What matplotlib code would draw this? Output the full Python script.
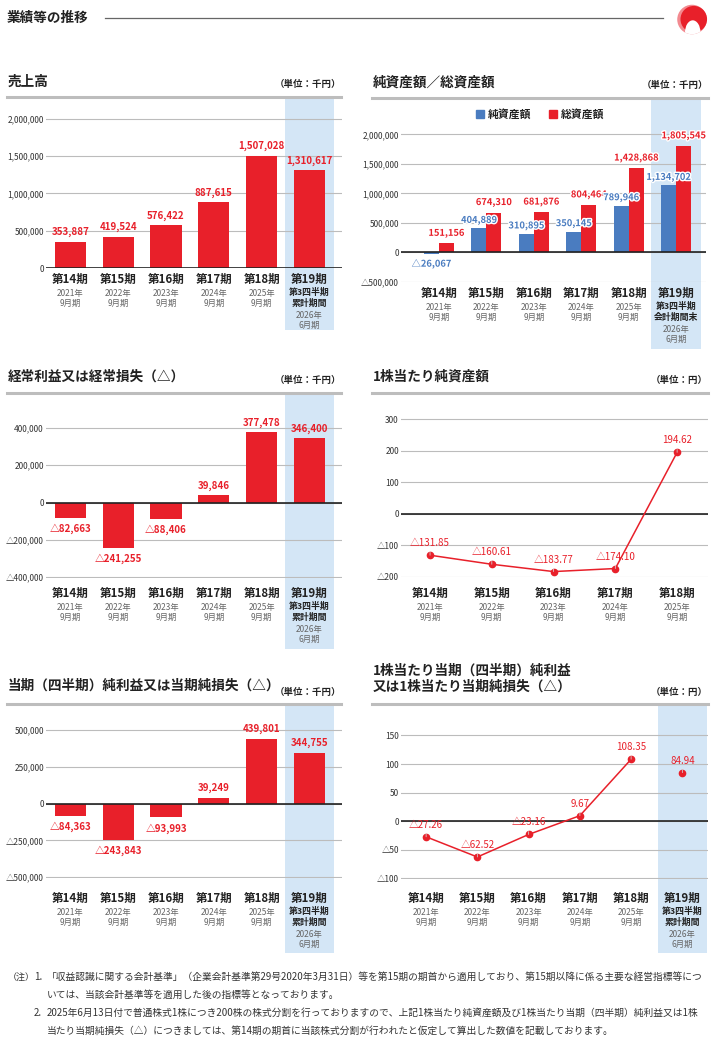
import matplotlib
matplotlib.use("Agg")
import matplotlib.pyplot as plt
import matplotlib.patches as mpatches
import matplotlib.transforms as mtrans
import matplotlib.patheffects as pe

plt.rcParams['font.family'] = ['Noto Sans CJK JP', 'DejaVu Sans']

# data
periods = ['第14期', '第15期', '第16期', '第17期', '第18期', '第19期']
years = ['2021年', '2022年', '2023年', '2024年', '2025年', '2026年']
months = ['9月期', '9月期', '9月期', '9月期', '9月期', '6月期']
sales = [353887, 419524, 576422, 887615, 1507028, 1310617]
net_assets = [-26067, 404889, 310895, 350145, 789946, 1134702]
total_assets = [151156, 674310, 681876, 804464, 1428868, 1805545]
ordinary = [-82663, -241255, -88406, 39846, 377478, 346400]
net_income = [-84363, -243843, -93993, 39249, 439801, 344755]
bps = [-131.85, -160.61, -183.77, -174.10, 194.62]
eps = [-27.26, -62.52, -23.16, 9.67, 108.35, 84.94]

RED = '#e8202a'
BLUE = '#4a7cc0'
BAND = '#d4e6f6'
GRID = '#bcbcbc'
DARK = '#222222'
GRAY = '#666666'

W, H = 717, 1042
fig = plt.figure(figsize=(W / 100, H / 100), dpi=100)


def fx(x):
    return x / W


def fy(y):
    return 1 - y / H


def add_ax(x0, y0, x1, y1):
    ax = fig.add_axes([fx(x0), fy(y1), (x1 - x0) / W, (y1 - y0) / H])
    ax.patch.set_visible(False)
    for s in ax.spines.values():
        s.set_visible(False)
    ax.set_xticks([])
    ax.tick_params(axis='y', length=0, pad=1.5, labelsize=6, labelcolor='#333333')
    return ax


def fmt_int(v):
    return '△{:,}'.format(-v) if v < 0 else '{:,}'.format(v)


def fmt_dec(v):
    return '△{:.2f}'.format(-v) if v < 0 else '{:.2f}'.format(v)


def header(x0, x1, y_title, y_unit, y_line, title, unit):
    if isinstance(title, list):
        for k, t in enumerate(title):
            fig.text(fx(x0 + 1), fy(y_title[k]), t, fontsize=9.8, fontweight='bold',
                     color=DARK, va='center')
    else:
        fig.text(fx(x0 + 1), fy(y_title), title, fontsize=9.8, fontweight='bold',
                 color=DARK, va='center')
    fig.text(fx(x1), fy(y_unit), unit, fontsize=6.8, fontweight='bold',
             color=DARK, va='center', ha='right')
    fig.add_artist(plt.Line2D([fx(x0), fx(x1)], [fy(y_line), fy(y_line)],
                              color='#bdbdbd', lw=2.2))


def yaxis(ax, ticks, lim, fmt):
    ax.set_ylim(*lim)
    ax.set_yticks(ticks)
    ax.set_yticklabels([fmt(t) for t in ticks])
    ax.grid(axis='y', color=GRID, lw=0.8)
    ax.set_axisbelow(True)
    ax.axhline(0, color=DARK, lw=1.2, zorder=3)


def band(ax, lo, hi, y0, y1):
    tr = mtrans.blended_transform_factory(ax.transData, fig.transFigure)
    ax.add_patch(mpatches.Rectangle((lo, fy(y1)), hi - lo, fy(y0) - fy(y1),
                                    transform=tr, color=BAND, lw=0,
                                    clip_on=False, zorder=0))


def xlabels(ax, n, y, special=None):
    tr = mtrans.blended_transform_factory(ax.transData, fig.transFigure)
    for i in range(n):
        ax.text(i, fy(y), periods[i], transform=tr, ha='center', va='center',
                fontsize=8.3, fontweight='bold', color=DARK)
        if i == 5 and special:
            ax.text(i, fy(y + 13), special[0], transform=tr, ha='center', va='center',
                    fontsize=6.4, fontweight='bold', color=DARK)
            ax.text(i, fy(y + 24), special[1], transform=tr, ha='center', va='center',
                    fontsize=6.4, fontweight='bold', color=DARK)
            ax.text(i, fy(y + 36.5), years[i], transform=tr, ha='center', va='center',
                    fontsize=6, color=GRAY)
            ax.text(i, fy(y + 46.5), months[i], transform=tr, ha='center', va='center',
                    fontsize=6, color=GRAY)
        else:
            ax.text(i, fy(y + 14.5), years[i], transform=tr, ha='center', va='center',
                    fontsize=6, color=GRAY)
            ax.text(i, fy(y + 24.5), months[i], transform=tr, ha='center', va='center',
                    fontsize=6, color=GRAY)


def bar_labels(ax, xs, vals, color, up=9.5, down=11, halo=False, size=7):
    for x, v in zip(xs, vals):
        off = up if v >= 0 else -down
        t = ax.annotate(fmt_int(v), (x, v), xytext=(0, off), textcoords='offset pixels',
                        ha='center', va='center', fontsize=size, fontweight='bold',
                        color=color, zorder=5)
        if halo:
            t.set_path_effects([pe.withStroke(linewidth=2, foreground='white')])


def point_labels(ax, xs, vals):
    for x, v in zip(xs, vals):
        ax.annotate(fmt_dec(v), (x, v), xytext=(0, 12), textcoords='offset pixels',
                    ha='center', va='center', fontsize=7, color=RED, zorder=5,
                    arrowprops=dict(arrowstyle='-', color='#d0d0d0', lw=0.6,
                                    shrinkA=1, shrinkB=3))


xs6 = list(range(6))
sp = ['第3四半期', '累計期間']

# page heading
fig.text(fx(7), fy(18), '業績等の推移', fontsize=9.8, fontweight='bold', color=DARK, va='center')
fig.add_artist(plt.Line2D([fx(105), fx(663)], [fy(18), fy(18)], color='#666666', lw=0.9))
lax = add_ax(676, 4, 708, 35)
lax.set_xlim(-1.05, 1.05)
lax.set_ylim(-1.05, 1.05)
lax.set_aspect('equal')
lax.set_yticks([])
c_out = mpatches.Circle((0, 0), 1, color='#f38a90', lw=0)
lax.add_patch(c_out)
lax.add_patch(mpatches.Circle((0.12, 0.02), 0.9, color=RED, lw=0))
arch = mpatches.Ellipse((0.05, -0.88), 1.05, 1.65, color='white', lw=0)
lax.add_patch(arch)
arch.set_clip_path(c_out)

# 1. 売上高
header(7, 341, 82, 84, 97, '売上高', '（単位：千円）')
ax1 = add_ax(46, 97, 342, 268)
ax1.set_xlim(-0.51, 5.68)
yaxis(ax1, [0, 500000, 1000000, 1500000, 2000000], (0, 2295000), fmt_int)
band(ax1, 4.48, 5.52, 97, 330)
ax1.bar(xs6, sales, width=0.65, color=RED, zorder=2)
bar_labels(ax1, xs6, sales, RED)
xlabels(ax1, 6, 279, sp)

# 2. 純資産額／総資産額
header(372, 708, 83, 85, 98, '純資産額／総資産額', '（単位：千円）')
ax2 = add_ax(401, 98, 706, 282)
ax2.set_xlim(-0.80, 5.63)
yaxis(ax2, [-500000, 0, 500000, 1000000, 1500000, 2000000], (-505000, 2618000), fmt_int)
band(ax2, 4.48, 5.52, 98, 349)
xa = [i - 0.158 for i in xs6]
xb = [i + 0.158 for i in xs6]
ax2.bar(xa, net_assets, width=0.316, color=BLUE, zorder=2)
ax2.bar(xb, total_assets, width=0.316, color=RED, zorder=2)
bar_labels(ax2, xb, total_assets, RED, up=10, halo=True, size=6.7)
bar_labels(ax2, xa, net_assets, BLUE, up=8, down=10, halo=True, size=6.7)
xlabels(ax2, 6, 293, ['第3四半期', '会計期間末'])
for lx, col, name in [(476, BLUE, '純資産額'), (549, RED, '総資産額')]:
    fig.add_artist(mpatches.Rectangle((fx(lx), fy(118)), 8 / W, 8 / H, color=col,
                                      transform=fig.transFigure))
    fig.text(fx(lx + 12), fy(114), name, fontsize=7.8, fontweight='bold',
             color=DARK, va='center')

# 3. 経常利益
header(7, 341, 377, 380, 393, '経常利益又は経常損失（△）', '（単位：千円）')
ax3 = add_ax(46, 393, 342, 578)
ax3.set_xlim(-0.51, 5.68)
yaxis(ax3, [-400000, -200000, 0, 200000, 400000], (-404000, 586700), fmt_int)
band(ax3, 4.48, 5.52, 393, 649)
ax3.bar(xs6, ordinary, width=0.65, color=RED, zorder=2)
bar_labels(ax3, xs6, ordinary, RED)
xlabels(ax3, 6, 593, sp)

# 4. 1株当たり純資産額
header(372, 708, 377, 380, 393, '1株当たり純資産額', '（単位：円）')
ax4 = add_ax(401, 393, 708, 577)
xs5 = list(range(5))
ax4.set_xlim(-0.47, 4.5)
yaxis(ax4, [-200, -100, 0, 100, 200, 300], (-201, 383), fmt_dec)
ax4.set_yticklabels(['△200', '△100', '0', '100', '200', '300'])
ax4.plot(xs5, bps, color=RED, lw=1.1, marker='o', ms=4.5, zorder=4)
point_labels(ax4, xs5, bps)
xlabels(ax4, 5, 593)

# 5. 当期純利益
header(7, 341, 686, 692, 704, '当期（四半期）純利益又は当期純損失（△）', '（単位：千円）')
ax5 = add_ax(46, 704, 342, 878)
ax5.set_xlim(-0.51, 5.68)
yaxis(ax5, [-500000, -250000, 0, 250000, 500000], (-505000, 675700), fmt_int)
band(ax5, 4.48, 5.52, 704, 953)
ax5.bar(xs6, net_income, width=0.65, color=RED, zorder=2)
bar_labels(ax5, xs6, net_income, RED)
xlabels(ax5, 6, 898, sp)

# 6. 1株当たり当期純利益
header(372, 708, [671, 687], 692, 704,
       ['1株当たり当期（四半期）純利益', '又は1株当たり当期純損失（△）'], '（単位：円）')
ax6 = add_ax(401, 704, 708, 879)
ax6.set_xlim(-0.49, 5.5)
yaxis(ax6, [-100, -50, 0, 50, 100, 150], (-101, 204.9), fmt_dec)
ax6.set_yticklabels(['△100', '△50', '0', '50', '100', '150'])
band(ax6, 4.53, 5.49, 704, 953)
ax6.plot(xs6[:5], eps[:5], color=RED, lw=1.1, marker='o', ms=4.5, zorder=4)
ax6.plot(xs6[5:], eps[5:], color=RED, lw=0, marker='o', ms=4.5, zorder=4)
point_labels(ax6, xs6, eps)
xlabels(ax6, 6, 898, sp)

# notes
note_fs = 7
fig.text(fx(8), fy(977), '（注）', fontsize=6.5, color='#333333', va='center')
fig.text(fx(34), fy(977), '1.', fontsize=note_fs, color='#333333', va='center')
fig.text(fx(34), fy(1013), '2.', fontsize=note_fs, color='#333333', va='center')
notes = [
    (977, '「収益認識に関する会計基準」（企業会計基準第29号2020年3月31日）等を第15期の期首から適用しており、第15期以降に係る主要な経営指標等につ'),
    (995, 'いては、当該会計基準等を適用した後の指標等となっております。'),
    (1013, '2025年6月13日付で普通株式1株につき200株の株式分割を行っておりますので、上記1株当たり純資産額及び1株当たり当期（四半期）純利益又は1株'),
    (1031, '当たり当期純損失（△）につきましては、第14期の期首に当該株式分割が行われたと仮定して算出した数値を記載しております。'),
]
for y, t in notes:
    fig.text(fx(47), fy(y), t, fontsize=note_fs, color='#333333', va='center')

fig.savefig('out.png', dpi=100)
